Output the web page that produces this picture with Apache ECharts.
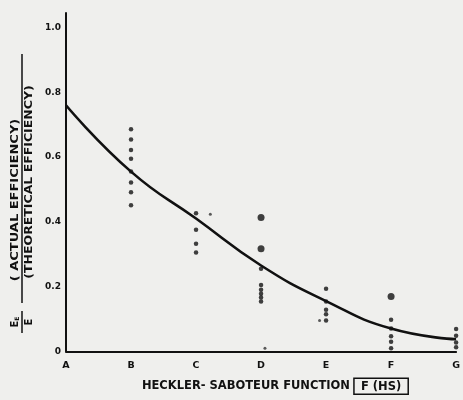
<!DOCTYPE html>
<html>
<head>
<meta charset="utf-8">
<script src="https://cdn.jsdelivr.net/npm/echarts@6.0.0/dist/echarts.min.js"></script>
<style>
html,body{margin:0;padding:0;background:#efefed;}
#chart{width:463px;height:400px;}
</style>
</head>
<body>
<div id="chart"></div>
<script>
var categories = ['A', 'B', 'C', 'D', 'E', 'F', 'G'];
var yTicks = ['0', '0.2', '0.4', '0.6', '0.8', '1.0'];
// fitted curve, one value per category
var curveValues = [0.76, 0.555, 0.41, 0.265, 0.155, 0.07, 0.037];
// observed points [category index, value]
var smallDots = [
	[1, 0.686], [1, 0.654], [1, 0.622], [1, 0.595], [1, 0.555], [1, 0.521], [1, 0.491], [1, 0.451],
	[2, 0.426], [2, 0.375], [2, 0.332], [2, 0.305],
	[3, 0.255], [3, 0.205], [3, 0.19], [3, 0.178], [3, 0.166], [3, 0.154],
	[4, 0.193], [4, 0.154], [4, 0.128], [4, 0.114], [4, 0.095],
	[5, 0.097], [5, 0.07], [5, 0.046], [5, 0.029], [5, 0.009],
	[6, 0.069], [6, 0.048], [6, 0.027], [6, 0.012]
];
var bigDots = [[3, 0.413], [3, 0.317], [5, 0.169]];
var strayDots = [[2.22, 0.423], [3.06, 0.009], [3.9, 0.095]];

var curveData = [];
for (var i = 0; i < curveValues.length; i++) {
	curveData.push([i, curveValues[i]]);
}

var ink = '#111';
var font = 'DejaVu Sans';

var mychart = echarts.init(document.getElementById('chart'));
var option = {
	backgroundColor: '#efefed',
	animation: false,
	grid: { left: 66, right: 4, top: 13, bottom: 42 },
	xAxis: {
		type: 'value',
		min: 0,
		max: 6,
		interval: 1,
		axisLine: { lineStyle: { color: ink, width: 2 } },
		axisTick: { show: false },
		splitLine: { show: false },
		axisLabel: {
			color: ink, fontFamily: font, fontWeight: 'bold', fontSize: 9.5, margin: 9,
			formatter: function (v) { return categories[v] || ''; }
		},
		name: 'HECKLER- SABOTEUR FUNCTION {box|F (HS)}',
		nameLocation: 'middle',
		nameGap: 27,
		nameTextStyle: {
			color: ink, fontFamily: font, fontWeight: 'bold', fontSize: 11.5,
			padding: [0, 0, 0, 28],
			rich: {
				box: {
					color: ink, fontFamily: font, fontWeight: 'bold', fontSize: 11.5,
					borderColor: ink, borderWidth: 1.5, padding: [3, 7, 1, 7]
				}
			}
		}
	},
	yAxis: {
		type: 'value',
		min: 0,
		max: 1.045,
		interval: 0.2,
		axisLine: { show: true, lineStyle: { color: ink, width: 2 } },
		axisTick: { show: false },
		splitLine: { show: false },
		axisLabel: {
			color: ink, fontFamily: font, fontWeight: 'bold', fontSize: 9, margin: 5,
			formatter: function (v) {
				var k = Math.round(v / 0.2);
				if (Math.abs(v - k * 0.2) > 1e-6) return '';
				return yTicks[k] || '';
			}
		}
	},
	graphic: [
		{ type: 'text', x: 15, y: 322, rotation: Math.PI / 2,
			style: { text: 'E{s|E}', fill: ink, font: 'bold 10px DejaVu Sans', align: 'center', verticalAlign: 'middle',
				rich: { s: { fill: ink, fontSize: 6, fontWeight: 'bold', fontFamily: font, verticalAlign: 'bottom' } } } },
		{ type: 'text', x: 29, y: 322, rotation: Math.PI / 2,
			style: { text: 'E', fill: ink, font: 'bold 10px DejaVu Sans', align: 'center', verticalAlign: 'middle' } },
		{ type: 'line', shape: { x1: 22, y1: 311, x2: 22, y2: 333 }, style: { stroke: ink, lineWidth: 1.5 } },
		{ type: 'text', x: 15, y: 200, rotation: Math.PI / 2, scaleX: 1.3,
			style: { text: '( ACTUAL EFFICIENCY)', fill: ink, font: 'bold 10px DejaVu Sans', align: 'center', verticalAlign: 'middle' } },
		{ type: 'text', x: 29, y: 182, rotation: Math.PI / 2, scaleX: 1.25,
			style: { text: '(THEORETICAL EFFICIENCY)', fill: ink, font: 'bold 10px DejaVu Sans', align: 'center', verticalAlign: 'middle' } },
		{ type: 'line', shape: { x1: 22, y1: 54, x2: 22, y2: 303 }, style: { stroke: ink, lineWidth: 1.5 } }
	],
	series: [
		{
			name: 'curve',
			type: 'line',
			data: curveData,
			smooth: true,
			symbol: 'none',
			lineStyle: { color: ink, width: 2.6 },
			z: 3
		},
		{
			name: 'points',
			type: 'scatter',
			data: smallDots,
			symbolSize: 4.5,
			itemStyle: { color: ink },
			z: 4
		},
		{
			name: 'large points',
			type: 'scatter',
			data: bigDots,
			symbolSize: 7,
			itemStyle: { color: ink },
			z: 4
		},
		{
			name: 'specks',
			type: 'scatter',
			data: strayDots,
			symbolSize: 3,
			itemStyle: { color: '#333' },
			z: 4
		}
	]
};
mychart.setOption(option);
</script>
</body>
</html>
